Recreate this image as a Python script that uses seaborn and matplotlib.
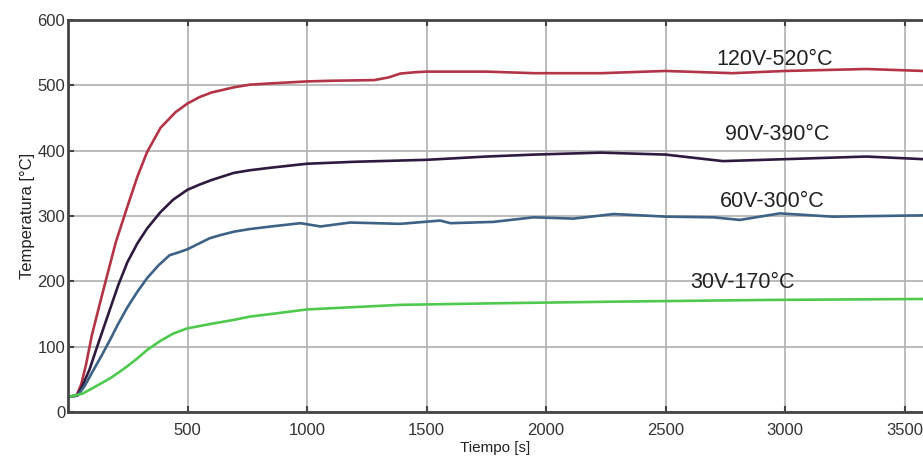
import matplotlib
matplotlib.use("Agg")
import matplotlib.pyplot as plt
import seaborn as sns
import pandas as pd

# ---- data ----
t_120 = [0, 35, 55, 75, 100, 136, 160, 200, 248, 290, 331, 387, 450, 499, 550, 600, 694,
         760, 850, 1000, 1100, 1280, 1340, 1390, 1450, 1500, 1750, 1950, 2230, 2500,
         2780, 3000, 3340, 3580]
T_120 = [23, 25, 42, 72, 118, 170, 204, 260, 314, 360, 398, 435, 459, 472, 482, 489, 497,
         501, 503, 506, 507, 508, 512, 518, 520, 521, 521, 518.6, 518.6, 522,
         518.6, 522, 525, 522]

t_90 = [0, 40, 60, 90, 120, 150, 178, 210, 248, 290, 331, 387, 440, 499, 550, 600, 694,
        760, 850, 1000, 1200, 1500, 1750, 1950, 2230, 2500, 2740, 3000, 3340, 3580]
T_90 = [23, 26, 40, 65, 98, 130, 160, 194, 229, 258, 281, 306, 325, 340, 348, 355, 366,
        370, 374, 380, 383, 386, 391, 394, 397, 394, 384, 387, 391, 387]

t_60 = [0, 40, 70, 100, 140, 178, 210, 248, 290, 331, 380, 425, 460, 499, 593, 640, 694,
        760, 850, 973, 1056, 1181, 1390, 1557, 1600, 1780, 1948, 2115, 2283, 2506, 2700,
        2811, 2978, 3200, 3580]
T_60 = [23, 25, 40, 60, 86, 112, 135, 160, 184, 205, 225, 240, 244, 249, 266, 271, 276,
        280, 284, 289, 284, 290, 288, 293, 289, 291, 298, 296, 303, 299, 298,
        294, 304, 299, 301]

t_30 = [0, 60, 120, 178, 210, 248, 290, 331, 387, 440, 499, 600, 694, 760, 850, 1000,
        1223, 1390, 1808, 2310, 2924, 3580]
T_30 = [23, 28, 40, 52, 60, 70, 82, 95, 109, 120, 128, 135, 141, 146, 150, 157,
        161, 164, 166.5, 169, 171.5, 173]

series_names = ["120V", "90V", "60V", "30V"]
labels = ["120V-520°C", "90V-390°C", "60V-300°C", "30V-170°C"]
label_x = [2958, 2966, 2945, 2820]
label_y = [539, 424, 322, 198]
x_ticks = [500, 1000, 1500, 2000, 2500, 3000, 3500]
y_ticks = [0, 100, 200, 300, 400, 500, 600]

frames = []
for name, t, T in zip(series_names, [t_120, t_90, t_60, t_30], [T_120, T_90, T_60, T_30]):
    frames.append(pd.DataFrame({"t": t, "T": T, "serie": name}))
df = pd.concat(frames, ignore_index=True)

palette = {"120V": "#b33446", "90V": "#2e1a3e", "60V": "#3d6285", "30V": "#4ec94e"}

sns.set_style("white")
plt.rcParams["font.family"] = ["Liberation Sans", "DejaVu Sans"]

fig = plt.figure(figsize=(9.23, 4.61), dpi=100)
ax = fig.add_axes([0.0737, 0.1063, 0.9263, 0.8503])

sns.lineplot(data=df, x="t", y="T", hue="serie", palette=palette, estimator=None,
             sort=False, linewidth=1.9, legend=False, ax=ax)

ax.set_xlim(0, 3577)
ax.set_ylim(0, 600)
ax.set_xticks(x_ticks)
ax.set_yticks(y_ticks)
ax.grid(True, color="#b0b0b0", linewidth=1.2)
ax.set_axisbelow(True)
for side in ["left", "bottom", "top"]:
    ax.spines[side].set_visible(True)
    ax.spines[side].set_color("#444444")
    ax.spines[side].set_linewidth(2)
ax.spines["right"].set_visible(False)
ax.tick_params(axis="both", direction="in", length=4, width=1.5, colors="#444444",
               labelsize=12, labelcolor="#333333", top=True, left=True, bottom=True)
ax.tick_params(axis="x", pad=8)
ax.tick_params(axis="y", pad=2)

ax.set_xlabel("Tiempo [s]", fontsize=11, color="#222222", labelpad=2)
ax.set_ylabel("Temperatura [°C]", fontsize=12, color="#222222", labelpad=2)

for txt, x, y in zip(labels, label_x, label_y):
    ax.text(x, y, txt, ha="center", va="center", fontsize=15.5, color="#222222")

fig.savefig("out.png", dpi=100)
